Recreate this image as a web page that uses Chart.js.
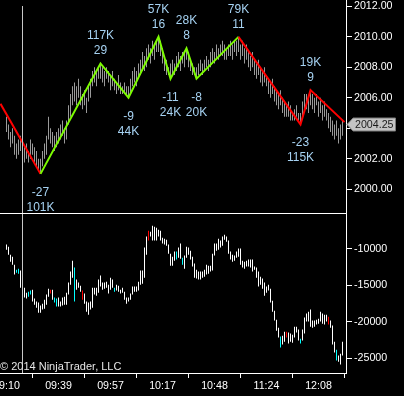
<!DOCTYPE html>
<html>
<head>
<meta charset="utf-8">
<script src="https://cdn.jsdelivr.net/npm/chart.js@4.4.1/dist/chart.umd.min.js"></script>
<style>
  html, body { margin: 0; padding: 0; background: #000; }
  canvas { display: block; background: #000; }
</style>
</head>
<body>
<canvas id="chart" width="404" height="396"></canvas>
<script>
// bar index of the first bar on screen
const firstBar = 3;

// price bars (high / low), one entry per bar from firstBar on
const priceHigh = [
  2004.75, 2004.25, 2003.75, 2004.0, 2003.5, 2003.0, 2003.25, 2003.5, 2003.0, 2002.75,
  2003.0, 2002.5, 2003.25, 2003.0, 2002.75, 2002.5, 2002.0, 2002.0, 2002.5, 2003.0,
  2003.5, 2004.75, 2004.0, 2003.75, 2003.5, 2003.75, 2004.0, 2004.25, 2004.5, 2004.0,
  2004.5, 2005.5, 2006.25, 2006.75, 2007.0, 2006.75, 2007.25, 2006.75, 2006.25, 2006.5,
  2006.0, 2006.75, 2007.25, 2007.75, 2008.0, 2007.75, 2008.0, 2008.25, 2008.0, 2007.75,
  2008.0, 2007.75, 2007.5, 2007.75, 2007.25, 2007.0, 2007.5, 2007.0, 2006.75, 2007.0,
  2006.75, 2006.75, 2007.25, 2007.75, 2008.0, 2007.75, 2008.25, 2008.5, 2009.0, 2008.75,
  2009.25, 2009.5, 2009.25, 2009.75, 2009.5, 2009.75, 2010.0, 2009.75, 2009.25, 2008.75,
  2008.5, 2008.0, 2008.25, 2008.5, 2008.25, 2008.75, 2009.0, 2008.75, 2009.0, 2009.0,
  2009.25, 2009.0, 2008.5, 2008.25, 2008.0, 2008.0, 2008.25, 2008.5, 2008.25, 2008.5,
  2008.75, 2008.5, 2009.0, 2009.25, 2009.0, 2009.5, 2009.25, 2009.5, 2009.75, 2009.5,
  2009.25, 2009.5, 2009.75, 2009.5, 2009.75, 2009.75, 2010.0, 2009.5, 2009.75, 2009.25,
  2009.5, 2009.0, 2008.75, 2009.0, 2008.5, 2008.25, 2008.5, 2008.0, 2007.75, 2008.0,
  2007.5, 2007.25, 2007.0, 2007.25, 2006.75, 2006.5, 2006.25, 2006.5, 2006.0, 2005.75,
  2005.5, 2005.75, 2005.5, 2005.0, 2005.25, 2005.5, 2005.0, 2005.0, 2005.75, 2006.25,
  2006.25, 2006.0, 2006.5, 2006.25, 2006.0, 2006.25, 2005.75, 2006.0, 2005.5, 2005.75,
  2005.25, 2005.0, 2004.75, 2004.5, 2004.25, 2004.5, 2004.0, 2004.25, 2004.5
];
const priceLow = [
  2003.75, 2003.25, 2002.75, 2003.0, 2002.25, 2002.0, 2002.25, 2002.5, 2001.75, 2001.75,
  2002.0, 2001.75, 2002.0, 2002.25, 2001.75, 2001.5, 2001.25, 2001.0, 2001.5, 2002.0,
  2002.25, 2003.25, 2003.0, 2002.75, 2002.5, 2002.75, 2003.0, 2003.25, 2003.5, 2003.0,
  2003.25, 2004.25, 2004.75, 2005.5, 2005.75, 2005.5, 2006.0, 2005.5, 2005.25, 2005.5,
  2005.0, 2005.75, 2006.0, 2006.75, 2007.0, 2006.75, 2007.25, 2007.25, 2007.0, 2006.75,
  2007.25, 2007.0, 2006.5, 2006.75, 2006.5, 2006.25, 2006.5, 2006.25, 2006.25, 2006.25,
  2006.25, 2006.0, 2006.25, 2006.75, 2007.0, 2006.75, 2007.25, 2007.5, 2007.75, 2007.75,
  2008.0, 2008.5, 2008.25, 2008.75, 2008.5, 2009.0, 2009.0, 2008.75, 2008.25, 2007.75,
  2007.5, 2007.5, 2007.25, 2007.5, 2007.5, 2007.75, 2008.0, 2007.75, 2008.25, 2008.0,
  2008.5, 2008.0, 2007.75, 2007.5, 2007.5, 2007.25, 2007.5, 2007.75, 2007.5, 2007.75,
  2008.0, 2007.75, 2008.0, 2008.25, 2008.25, 2008.5, 2008.5, 2008.75, 2008.75, 2008.5,
  2008.5, 2008.75, 2008.75, 2008.5, 2009.0, 2008.75, 2009.0, 2008.5, 2008.75, 2008.25,
  2008.5, 2008.0, 2007.75, 2008.0, 2007.5, 2007.25, 2007.5, 2007.0, 2006.75, 2007.0,
  2006.75, 2006.25, 2006.0, 2006.25, 2005.75, 2005.5, 2005.25, 2005.5, 2005.0, 2004.75,
  2004.75, 2004.75, 2004.5, 2004.5, 2004.5, 2004.75, 2004.5, 2004.25, 2004.75, 2005.25,
  2005.25, 2005.0, 2005.5, 2005.25, 2005.0, 2005.5, 2004.75, 2005.0, 2004.5, 2004.75,
  2004.5, 2004.0, 2003.75, 2003.5, 2003.25, 2003.5, 2003.0, 2003.25, 2003.5
];

// lower pane (cumulative delta) bars
const deltaHigh = [
  -9400, -9700, -10800, -11050, -12150, -12850, -12700, -12950, -14200, -15300,
  -16000, -15850, -15700, -15600, -16800, -17200, -17350, -17750, -17500, -16950,
  -16250, -15450, -15600, -15600, -16650, -16800, -16650, -17200, -16650, -16550,
  -16000, -14600, -13100, -11600, -12550, -14200, -14600, -15050, -15700, -16100,
  -17200, -17350, -17200, -15300, -15300, -15300, -14200, -13650, -14600, -14600,
  -14500, -14900, -13950, -14200, -15300, -14900, -15050, -15600, -15300, -15850,
  -16650, -16650, -16100, -15150, -15150, -15150, -14500, -12950, -12950, -9800,
  -8300, -7500, -7650, -6800, -6950, -7100, -7350, -7500, -8450, -8600,
  -8750, -9400, -10650, -11050, -10350, -10350, -9800, -9250, -11200, -10900,
  -9700, -9800, -10250, -11050, -12000, -12850, -13100, -13100, -13100, -12850,
  -12150, -12300, -12300, -10650, -9250, -9250, -8600, -8850, -8300, -8050,
  -8300, -8850, -10350, -10800, -10900, -10350, -9950, -9950, -11600, -11750,
  -11600, -11450, -11450, -11450, -12400, -12550, -13100, -13800, -14050, -14600,
  -15150, -14900, -15450, -17100, -18450, -19700, -20800, -22000, -21900, -21350,
  -21350, -21450, -21600, -21750, -20650, -20650, -21050, -22300, -21050, -19400,
  -18850, -18600, -18300, -19800, -19800, -19700, -19550, -18600, -18850, -19000,
  -19000, -19300, -19800, -20500, -22700, -23800, -24600, -24350, -22700
];
const deltaLow = [
  -10100, -10800, -11750, -12150, -13500, -13250, -13400, -15300, -15600, -16650,
  -16800, -16550, -16250, -17200, -17650, -18050, -18750, -18750, -18300, -18200,
  -17650, -16550, -16100, -16950, -17350, -17900, -17900, -17900, -17750, -17650,
  -17650, -16250, -14900, -13950, -17200, -15600, -15300, -15850, -16950, -17500,
  -18600, -19000, -18300, -18050, -16250, -16400, -16000, -15150, -15600, -15450,
  -15300, -16100, -15600, -15300, -15850, -15700, -15850, -16100, -16000, -16950,
  -17500, -17200, -16950, -16250, -15850, -15850, -15700, -14900, -14750, -13950,
  -10800, -8850, -8300, -8850, -8850, -8850, -8300, -8850, -9250, -9400,
  -9550, -10650, -12300, -12300, -11600, -11450, -11200, -11350, -12150, -12700,
  -11200, -10800, -11450, -12400, -13950, -14050, -14200, -14200, -13950, -13800,
  -13500, -13400, -13100, -12950, -10900, -10250, -10100, -9800, -9550, -8750,
  -9000, -10650, -11450, -11750, -11600, -11200, -11050, -12150, -12550, -12700,
  -12400, -12400, -12550, -13100, -12850, -13950, -15150, -14900, -15450, -16400,
  -16000, -15700, -17350, -18600, -19800, -21200, -22150, -23500, -23100, -22700,
  -22150, -22950, -22700, -22850, -22150, -21450, -22550, -22950, -22550, -21600,
  -19950, -19950, -20650, -20800, -20650, -20350, -20250, -19950, -20250, -20350,
  -19950, -20350, -20800, -23100, -24200, -25300, -25450, -25850, -24600
];
// bars flagged in the delta pane
const flagUpBars = [8, 9, 14, 15, 27, 28, 37, 57, 88, 91, 140, 150, 168];
const flagDownBars = [25, 41, 74, 143, 164];

// zigzag swing points
const swingBar = [0, 20, 50, 64, 79, 85, 93, 98, 119, 150, 155, 172];
const swingPrice = [2005.6, 2001.0, 2008.25, 2006.0, 2010.0, 2007.25, 2009.25, 2007.25, 2010.0, 2004.25, 2006.5, 2004.4];
const swingVolume = ['', '101K', '117K', '44K', '57K', '24K', '28K', '20K', '79K', '115K', '19K', ''];
const swingCount = ['', '-27', '29', '-9', '16', '-11', '8', '-8', '11', '-23', '9', ''];
// trend of each leg (leg i runs from point i to point i+1)
const legTrend = ['down', 'up', 'up', 'up', 'up', 'up', 'up', 'up', 'down', 'down', 'down'];

const priceTicks = [2000, 2002, 2004, 2006, 2008, 2010, 2012];
const deltaTicks = [-10000, -15000, -20000, -25000];
const timeTickBars = [3, 29, 55, 81, 107, 133, 159];
const timeLabels = ['09:10', '09:39', '09:57', '10:17', '10:48', '11:24', '12:08'];

const lastPrice = 2004.25;
const markerBar = 11;

const FONT_FAMILY = "'Liberation Sans', Arial, sans-serif";
const AXIS_FONT = { family: FONT_FAMILY, size: 10.67 };
const AXIS_COLOR = '#ffffff';

const priceBars = priceHigh.map((h, i) => ({ x: firstBar + i, y: [priceLow[i], h] }));
const deltaBars = deltaHigh.map((h, i) => ({ x: firstBar + i, y: [deltaLow[i], h] }));
const deltaColors = deltaBars.map(b => {
  if (flagUpBars.includes(b.x)) return '#00ffff';
  if (flagDownBars.includes(b.x)) return '#ff0000';
  return '#ffffff';
});
const swingPoints = swingBar.map((b, i) => ({ x: b, y: swingPrice[i] }));

// swing labels, marker line, copyright and last price tag
const overlays = {
  id: 'overlays',
  afterDatasetsDraw(chart) {
    const { ctx, chartArea, scales } = chart;
    ctx.save();

    // vertical marker line
    const mx = Math.round(scales.x.getPixelForValue(markerBar) - 0.5) + 0.5;
    ctx.strokeStyle = '#c8c8c8';
    ctx.lineWidth = 1;
    ctx.beginPath();
    ctx.moveTo(mx, 6);
    ctx.lineTo(mx, chartArea.bottom);
    ctx.stroke();

    // swing labels
    ctx.font = '12px ' + FONT_FAMILY;
    ctx.fillStyle = '#a6d2f2';
    ctx.textAlign = 'center';
    ctx.textBaseline = 'alphabetic';
    swingBar.forEach((b, i) => {
      if (!swingVolume[i]) return;
      const x = scales.x.getPixelForValue(b);
      const y = scales.y.getPixelForValue(swingPrice[i]);
      const isHigh = swingPrice[i] > swingPrice[i - 1];
      if (isHigh) {
        ctx.fillText(swingVolume[i], x, y - 28.5 + 4.3);
        ctx.fillText(swingCount[i], x, y - 13.5 + 4.3);
      } else {
        ctx.fillText(swingCount[i], x, y + 17.5 + 4.3);
        ctx.fillText(swingVolume[i], x, y + 32.5 + 4.3);
      }
    });

    // copyright
    ctx.font = '11px ' + FONT_FAMILY;
    ctx.fillStyle = '#e6e6e6';
    ctx.textAlign = 'left';
    ctx.fillText('\u00a9 2014 NinjaTrader, LLC', 0, 370);
    ctx.restore();
  },
  afterDraw(chart) {
    const { ctx, chartArea, scales } = chart;
    ctx.save();

    // pane separator
    const sy = Math.floor(scales.y.bottom) + 0.5;
    ctx.strokeStyle = '#ffffff';
    ctx.lineWidth = 1;
    ctx.beginPath();
    ctx.moveTo(chartArea.left, sy);
    ctx.lineTo(chartArea.right, sy);
    ctx.stroke();

    // last price tag
    const py = Math.round(scales.y.getPixelForValue(lastPrice)) + 0.5;
    const x0 = chartArea.right + 1;
    ctx.beginPath();
    ctx.moveTo(x0, py);
    ctx.lineTo(x0 + 6, py - 6.5);
    ctx.lineTo(395.5, py - 6.5);
    ctx.lineTo(395.5, py + 6.5);
    ctx.lineTo(x0 + 6, py + 6.5);
    ctx.closePath();
    ctx.fillStyle = '#c4c4c4';
    ctx.fill();
    ctx.strokeStyle = '#7a7a7a';
    ctx.stroke();
    ctx.font = AXIS_FONT.size + 'px ' + FONT_FAMILY;
    ctx.fillStyle = '#1a1a1a';
    ctx.textAlign = 'left';
    ctx.textBaseline = 'middle';
    ctx.fillText(lastPrice.toFixed(2), x0 + 8, py + 0.5);
    ctx.restore();
  }
};

const axisGrid = { display: true, drawOnChartArea: false, drawTicks: true, tickLength: 6, color: AXIS_COLOR };

new Chart(document.getElementById('chart'), {
  type: 'bar',
  data: {
    datasets: [
      {
        type: 'line',
        data: swingPoints,
        xAxisID: 'x',
        yAxisID: 'y',
        borderWidth: 2,
        pointRadius: 0,
        tension: 0,
        order: 0,
        segment: {
          borderColor: ctx => legTrend[ctx.p0DataIndex] === 'up' ? '#7cfc00' : '#ff0000'
        }
      },
      {
        type: 'bar',
        data: priceBars,
        xAxisID: 'x',
        yAxisID: 'y',
        backgroundColor: '#9a9a9a',
        borderWidth: 0,
        barThickness: 1,
        grouped: false,
        inflateAmount: 0,
        order: 1
      },
      {
        type: 'bar',
        data: deltaBars,
        xAxisID: 'x',
        yAxisID: 'yd',
        backgroundColor: deltaColors,
        borderWidth: 0,
        barThickness: 1,
        grouped: false,
        inflateAmount: 0,
        order: 1
      }
    ]
  },
  options: {
    responsive: false,
    animation: false,
    events: [],
    layout: { padding: 0 },
    plugins: {
      legend: { display: false },
      tooltip: { enabled: false }
    },
    scales: {
      x: {
        type: 'linear',
        position: 'bottom',
        min: -0.25,
        max: 172.75,
        offset: false,
        afterBuildTicks: scale => {
          scale.ticks = timeTickBars.map(v => ({ value: v }));
        },
        afterFit: scale => {
          scale.height = 23;
          scale.paddingLeft = 0;
          scale.paddingRight = 0;
        },
        grid: { ...axisGrid, tickLength: 5 },
        border: { display: true, color: AXIS_COLOR },
        ticks: {
          color: AXIS_COLOR,
          font: AXIS_FONT,
          padding: 2,
          maxRotation: 0,
          autoSkip: false,
          callback: v => timeLabels[timeTickBars.indexOf(v)]
        }
      },
      y: {
        type: 'linear',
        position: 'right',
        stack: 'panes',
        stackWeight: 213,
        min: 1998.43,
        max: 2012.42,
        afterBuildTicks: scale => {
          scale.ticks = priceTicks.map(v => ({ value: v }));
        },
        afterFit: scale => {
          scale.width = 58;
          scale.paddingTop = 0;
          scale.paddingBottom = 0;
        },
        grid: axisGrid,
        border: { display: true, color: AXIS_COLOR },
        ticks: {
          color: AXIS_COLOR,
          font: AXIS_FONT,
          padding: 2,
          autoSkip: false,
          callback: v => v.toFixed(2)
        }
      },
      yd: {
        type: 'linear',
        position: 'right',
        stack: 'panes',
        stackWeight: 160,
        min: -27000,
        max: -5068,
        afterBuildTicks: scale => {
          scale.ticks = deltaTicks.map(v => ({ value: v }));
        },
        afterFit: scale => {
          scale.width = 58;
          scale.paddingTop = 0;
          scale.paddingBottom = 0;
        },
        grid: axisGrid,
        border: { display: true, color: AXIS_COLOR },
        ticks: {
          color: AXIS_COLOR,
          font: AXIS_FONT,
          padding: 2,
          autoSkip: false,
          callback: v => String(v)
        }
      }
    }
  },
  plugins: [overlays]
});
</script>
</body>
</html>
